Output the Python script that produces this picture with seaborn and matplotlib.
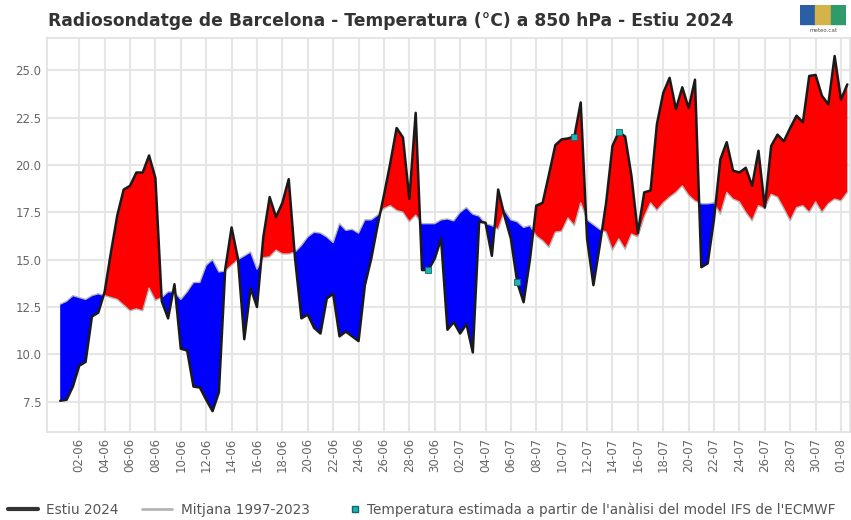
import numpy as np
import pandas as pd
import matplotlib
matplotlib.use("Agg")
import matplotlib.pyplot as plt
import matplotlib.dates as mdates
from matplotlib.lines import Line2D
from matplotlib.patches import Rectangle
import seaborn as sns

sns.set_theme(style="whitegrid")
plt.rcParams['font.family'] = ['DejaVu Sans']

# 850 hPa temperature, two soundings a day (00Z / 12Z) from 1 June 2024
estiu_2024 = [7.55, 7.6, 8.3, 9.4, 9.6, 12.0, 12.2, 13.3, 15.4, 17.35,
              18.7, 18.9, 19.6, 19.6, 20.5, 19.3, 12.8, 11.9, 13.7, 10.3,
              10.2, 8.3, 8.25, 7.6, 7.0, 8.0, 14.5, 16.7, 15.05, 10.8,
              13.5, 12.5, 16.2, 18.3, 17.25, 18.0, 19.25, 15.05, 11.9, 12.1,
              11.4, 11.1, 12.95, 13.2, 10.95, 11.2, 10.95, 10.7, 13.65, 15.05,
              16.8, 18.4, 20.1, 21.95, 21.45, 18.2, 22.75, 14.45, 14.45, 15.05,
              16.1, 11.3, 11.7, 11.1, 11.6, 10.1, 17.0, 16.95, 15.2, 18.7,
              17.3, 16.1, 13.8, 12.75, 15.0, 17.85, 18.0, 19.5, 21.05, 21.35,
              21.4, 21.5, 23.3, 16.1, 13.65, 15.75, 18.0, 21.0, 21.75, 21.5,
              19.4, 16.4, 18.55, 18.65, 22.15, 23.8, 24.6, 22.95, 24.1, 23.0,
              24.5, 14.6, 14.8, 17.15, 20.3, 21.2, 19.7, 19.6, 19.85, 18.9,
              20.75, 17.75, 21.0, 21.6, 21.25, 21.95, 22.6, 22.25, 24.7, 24.75,
              23.65, 23.2, 25.75, 23.45, 24.25]

mitjana = [12.65, 12.8, 13.1, 13.0, 12.9, 13.1, 13.2, 13.1, 13.0, 12.9,
           12.6, 12.3, 12.4, 12.3, 13.5, 12.85, 13.0, 13.3, 13.3, 12.9,
           13.3, 13.8, 13.8, 14.7, 15.0, 14.35, 14.4, 14.7, 15.0, 15.2,
           15.4, 14.5, 15.1, 15.15, 15.5, 15.3, 15.3, 15.4, 15.75, 16.2,
           16.45, 16.4, 16.2, 15.9, 16.9, 16.55, 16.6, 16.4, 17.1, 17.1,
           17.35, 17.7, 17.85, 17.6, 17.5, 17.0, 17.35, 16.9, 16.9, 16.9,
           17.1, 17.15, 17.05, 17.5, 17.75, 17.4, 17.3, 16.9, 16.8, 16.6,
           17.6, 17.1, 17.0, 16.7, 16.8, 16.25, 16.0, 15.65, 16.45, 16.5,
           17.2, 16.8, 18.0, 17.1, 16.85, 16.6, 16.45, 15.5, 16.1, 15.55,
           16.35, 16.2, 17.25, 18.0, 17.6, 18.0, 18.3, 18.55, 18.9, 18.4,
           18.1, 17.95, 17.95, 18.0, 17.4, 18.55, 18.2, 18.05, 17.5, 17.05,
           17.85, 17.7, 18.45, 18.3, 17.7, 17.05, 17.75, 17.85, 17.5, 18.05,
           17.5, 17.95, 18.2, 18.1, 18.55]

# soundings replaced by the ECMWF IFS analysis
estimada_idx = [58, 72, 81, 88]

y_ticks = [7.5, 10.0, 12.5, 15.0, 17.5, 20.0, 22.5, 25.0]

times = pd.date_range("2024-06-01 00:00", periods=len(estiu_2024), freq="12h")
tick_times = pd.date_range("2024-06-02 12:00", "2024-08-01 12:00", freq="2D")

df = pd.DataFrame({'x': mdates.date2num(times.to_pydatetime()),
                   'obs': estiu_2024, 'mean': mitjana})
est = df.iloc[estimada_idx]

fig = plt.figure(figsize=(8.51, 5.20), dpi=100)
ax = fig.add_axes([0.0552, 0.1692, 0.9436, 0.7577])

obs = df['obs'].values
mean = df['mean'].values
ax.fill_between(df['x'], obs, mean, where=obs >= mean, interpolate=True,
                color='#ff0000', lw=0, zorder=2)
ax.fill_between(df['x'], obs, mean, where=obs < mean, interpolate=True,
                color='#0000ff', lw=0, zorder=2)

sns.lineplot(data=df, x='x', y='mean', color='#b5b5b5', lw=1, ax=ax, zorder=3)
sns.lineplot(data=df, x='x', y='obs', color='#1a1a1a', lw=1.8, ax=ax, zorder=4)
sns.scatterplot(data=est, x='x', y='obs', color='#1fb3b3', edgecolor='#0d6b6b',
                s=22, marker='s', linewidth=0.6, ax=ax, zorder=5)

ax.set_xlim(mdates.date2num(pd.Timestamp("2024-05-30 23:00")),
            mdates.date2num(pd.Timestamp("2024-08-02 05:00")))
ax.set_ylim(5.9, 26.7)
ax.set_xticks(mdates.date2num(tick_times.to_pydatetime()))
ax.set_xticklabels(tick_times.strftime('%d-%m'), rotation=90)
ax.set_yticks(y_ticks)
ax.set_yticklabels([f'{v:.1f}' for v in y_ticks])
ax.tick_params(axis='both', labelsize=8.5, labelcolor='#666666', length=0, pad=4)
ax.set_xlabel('')
ax.set_ylabel('')
ax.grid(True, color='#e6e6e6', lw=1.5)
ax.set_facecolor('white')
for s in ax.spines.values():
    s.set_color('#e0e0e0')
    s.set_linewidth(1.2)

fig.text(0.056, 0.96, 'Radiosondatge de Barcelona - Temperatura (°C) a 850 hPa - Estiu 2024',
         fontsize=12.3, fontweight='bold', color='#333333', va='center', ha='left')

# meteocat logo
lax = fig.add_axes([800 / 851, 1 - 36 / 520, 46 / 851, 31 / 520])
lax.axis('off')
lax.set_xlim(0, 3)
lax.set_ylim(0, 2)
for k, c in enumerate(['#2a5fa5', '#d4b44a', '#2f9a6a']):
    lax.add_patch(Rectangle((k, 0.8), 1, 1.2, color=c))
lax.text(1.5, 0.35, 'meteo.cat', fontsize=4, ha='center', va='center', color='#555555')

# legend: two line entries, then the marker entry with a short handle
line_handles = [Line2D([], [], color='#333333', lw=3),
                Line2D([], [], color='#b5b5b5', lw=2)]
line_labels = ['Estiu 2024', 'Mitjana 1997-2023']
fig.legend(line_handles, line_labels, loc='center left',
           bbox_to_anchor=(0.0094, 0.02), ncol=2, frameon=False,
           fontsize=9.8, labelcolor='#555555', handlelength=2.2,
           handletextpad=0.6, columnspacing=1.75, borderaxespad=0, borderpad=0)
dot_handle = [Line2D([], [], ls='', marker='s', markersize=4.5, color='#1fb3b3',
                     markeredgecolor='#0d6b6b')]
fig.legend(dot_handle, ["Temperatura estimada a partir de l'anàlisi del model IFS de l'ECMWF"],
           loc='center left', bbox_to_anchor=(0.4107, 0.02), frameon=False,
           fontsize=9.8, labelcolor='#555555', handlelength=0.8,
           handletextpad=0.5, borderaxespad=0, borderpad=0)

fig.savefig('out.png', dpi=100)
